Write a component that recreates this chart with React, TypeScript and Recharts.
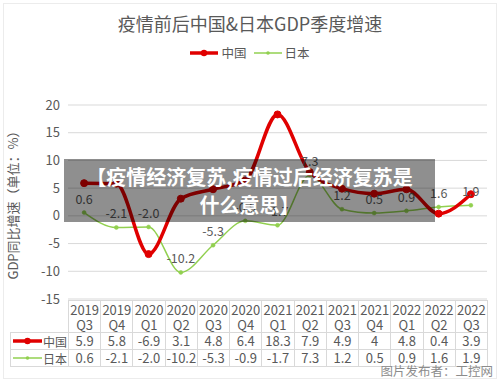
import React from 'react';
import { LineChart, Line, XAxis, YAxis, CartesianGrid, LabelList } from 'recharts';

const years = ['2019', '2019', '2020', '2020', '2020', '2020', '2021', '2021', '2021', '2021', '2022', '2022', '2022'];
const quarters = ['Q3', 'Q4', 'Q1', 'Q2', 'Q3', 'Q4', 'Q1', 'Q2', 'Q3', 'Q4', 'Q1', 'Q2', 'Q3'];
const china = [5.9, 5.8, -6.9, 3.1, 4.8, 6.4, 18.3, 7.9, 4.9, 4, 4.8, 0.4, 3.9];
const japan = [0.6, -2.1, -2.0, -10.2, -5.3, -0.9, -1.7, 7.3, 1.2, 0.5, 0.9, 1.6, 1.9];
const yTicks = [-15, -10, -5, 0, 5, 10, 15, 20];

const data = years.map((y, i) => ({ name: `${y} ${quarters[i]}`, 中国: china[i], 日本: japan[i] }));

const RED = '#e00000';
const GREEN = '#92d050';
const TEXT = '#595959';
const GRID = '#d9d9d9';
const FONT = '"Noto Sans CJK SC", "Noto Sans", sans-serif';

// table geometry, lined up with the plot area
const plotLeft = 68;
const plotRight = 487;
const colW = (plotRight - plotLeft) / years.length;

const LegendKey = ({ color, thick, w = 28 }: { color: string; thick: boolean; w?: number }) => (
  <svg width={w} height={10} style={{ display: 'block', flexShrink: 0 }}>
    <line x1={0} y1={5} x2={w} y2={5} stroke={color} strokeWidth={thick ? 3.5 : 1.5} />
    <circle cx={w / 2} cy={5} r={thick ? 3.2 : 1.8} fill={color} />
  </svg>
);

const TopLegend = () => (
  <div
    style={{
      position: 'absolute',
      left: 0,
      top: 43,
      width: 500,
      display: 'flex',
      justifyContent: 'center',
      alignItems: 'center',
      gap: 3,
      fontSize: 12.5,
      color: TEXT,
    }}
  >
    <LegendKey color={RED} thick />
    <span style={{ marginRight: 4 }}>中国</span>
    <LegendKey color={GREEN} thick={false} />
    <span>日本</span>
  </div>
);

const DataTable = () => {
  const top = 300;
  const headH = 32;
  const rowH = 17;
  const cell: React.CSSProperties = {
    position: 'absolute',
    boxSizing: 'border-box',
    border: `1px solid ${GRID}`,
    textAlign: 'center',
    color: TEXT,
    fontSize: 13,
    whiteSpace: 'nowrap',
  };
  const rows = [
    { label: '中国', color: RED, thick: true, vals: china.map((v) => String(v)) },
    { label: '日本', color: GREEN, thick: false, vals: japan.map((v) => v.toFixed(1)) },
  ];
  return (
    <>
      {years.map((y, i) => (
        <div
          key={'h' + i}
          style={{ ...cell, left: plotLeft + i * colW, top, width: colW + 1, height: headH + 1, lineHeight: '15px', paddingTop: 1 }}
        >
          {y}
          <br />
          {quarters[i]}
        </div>
      ))}
      {rows.map((r, ri) => (
        <React.Fragment key={r.label}>
          <div
            style={{
              ...cell,
              left: 10,
              top: top + headH + ri * rowH,
              width: plotLeft - 10 + 1,
              height: rowH + 1,
              display: 'flex',
              alignItems: 'center',
              paddingLeft: 2,
              gap: 1,
              textAlign: 'left',
              fontSize: 12,
            }}
          >
            <LegendKey color={r.color} thick={r.thick} w={29} />
            <span style={{ lineHeight: '15px' }}>{r.label}</span>
          </div>
          {r.vals.map((v, i) => (
            <div
              key={r.label + i}
              style={{ ...cell, left: plotLeft + i * colW, top: top + headH + ri * rowH, width: colW + 1, height: rowH + 1, lineHeight: '15px' }}
            >
              {v}
            </div>
          ))}
        </React.Fragment>
      ))}
    </>
  );
};

export default function App() {
  return (
    <div style={{ position: 'absolute', left: 0, top: 0, width: 500, height: 382, background: '#fff', fontFamily: FONT, overflow: 'hidden' }}>
      <div style={{ position: 'absolute', left: 3, top: 3, width: 492, height: 374, border: '1px solid #ececec' }} />
      <div style={{ position: 'absolute', left: 0, top: 10, width: 500, textAlign: 'center', fontSize: 18, color: TEXT }}>
        疫情前后中国&amp;日本GDP季度增速
      </div>
      <TopLegend />
      <div style={{ position: 'absolute', left: 0, top: 0 }}>
        <LineChart width={500} height={382} data={data} margin={{ top: 105, right: 13, bottom: 83, left: 0 }}>
          <CartesianGrid vertical={false} stroke={GRID} />
          <XAxis dataKey="name" hide padding={{ left: colW / 2, right: colW / 2 }} />
          <YAxis
            width={68}
            domain={[-15, 20]}
            ticks={yTicks}
            axisLine={false}
            tickLine={false}
            tickSize={0}
            tickMargin={8}
            tick={{ fill: TEXT, fontSize: 13, fontFamily: FONT }}
            label={{
              value: 'GDP同比增速（单位：%）',
              angle: -90,
              position: 'insideLeft',
              offset: 13,
              style: { textAnchor: 'middle', fill: TEXT, fontSize: 13, fontFamily: FONT },
            }}
          />
          <Line
            type="monotone"
            dataKey="日本"
            stroke={GREEN}
            strokeWidth={1.5}
            dot={{ r: 2, fill: GREEN, stroke: GREEN, strokeWidth: 0.5 }}
            isAnimationActive={false}
          >
            <LabelList
              dataKey="日本"
              position="top"
              offset={9}
              formatter={(v: number) => v.toFixed(1)}
              style={{ fill: TEXT, fontSize: 12.5, fontFamily: FONT }}
            />
          </Line>
          <Line
            type="monotone"
            dataKey="中国"
            stroke={RED}
            strokeWidth={3.5}
            dot={{ r: 3.5, fill: RED, stroke: RED, strokeWidth: 1 }}
            isAnimationActive={false}
          />
        </LineChart>
      </div>
      <DataTable />
      <div
        style={{
          position: 'absolute',
          left: 64,
          top: 159,
          width: 371,
          height: 63,
          background: 'rgba(0,0,0,0.44)',
          color: '#fff',
          fontWeight: 'bold',
          fontSize: 20,
          lineHeight: '28px',
          textAlign: 'center',
          paddingTop: 4,
          boxSizing: 'border-box',
        }}
      >
        【疫情经济复苏,疫情过后经济复苏是
        <br />
        什么意思】
      </div>
      <div style={{ position: 'absolute', right: 7, top: 361, fontSize: 12.5, color: '#8c8c8c' }}>图片发布者：工控网</div>
    </div>
  );
}
